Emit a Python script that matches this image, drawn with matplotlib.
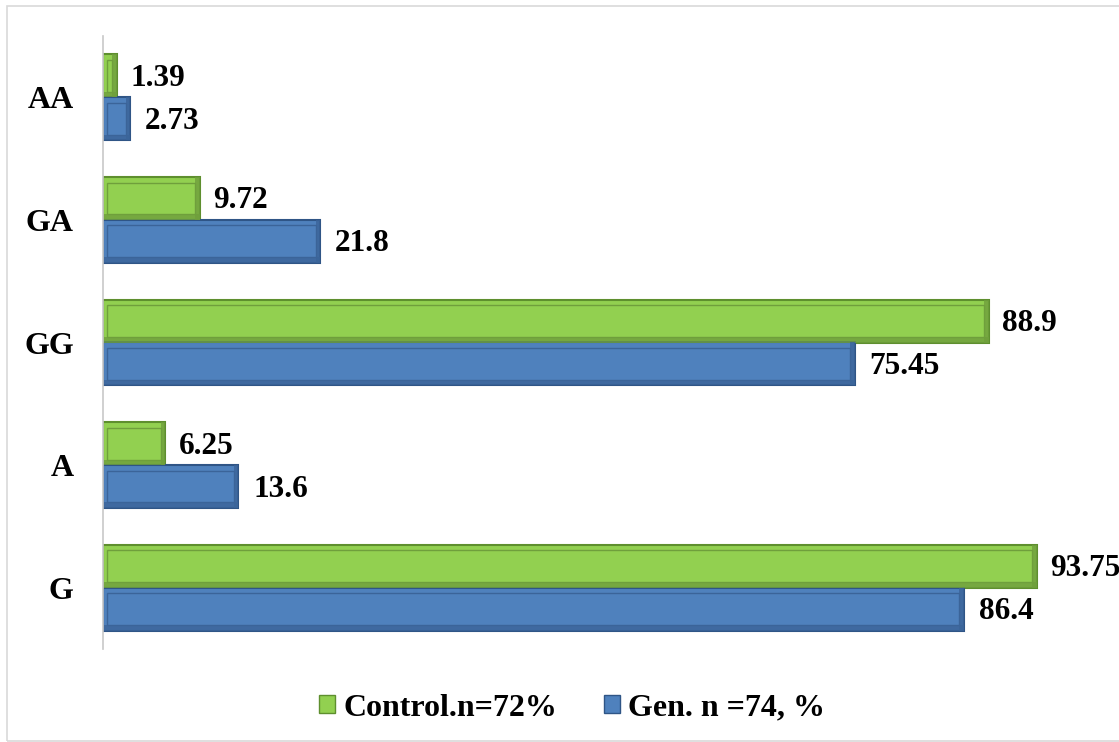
import matplotlib
matplotlib.use("Agg")
import matplotlib.pyplot as plt
from matplotlib.patches import Rectangle, Patch
import numpy as np

categories = ["G", "A", "GG", "GA", "AA"]
control = [93.75, 6.25, 88.9, 9.72, 1.39]
gen = [86.4, 13.6, 75.45, 21.8, 2.73]
control_labels = ["93.75", "6.25", "88.9", "9.72", "1.39"]
gen_labels = ["86.4", "13.6", "75.45", "21.8", "2.73"]
legend_labels = ["Control.n=72%", "Gen. n =74, %"]

plt.rcParams['font.family'] = ['Liberation Serif', 'DejaVu Serif']

fig = plt.figure(figsize=(11.19, 7.42), dpi=100)
fig.patches.append(Rectangle((7/1119, 1/742), 1.2, 735/742, transform=fig.transFigure,
                             fill=False, edgecolor="#d9d9d9", linewidth=1.2))
ax = fig.add_axes([103/1119, 1 - 649/742, 1 - 103/1119, (649 - 36)/742])

y = np.arange(len(categories))
h = 0.35

green_face, green_edge, green_dark = "#92d050", "#5e8f2e", "#6f9f3c"
blue_face, blue_edge, blue_dark = "#4f81bd", "#2f5586", "#3b6499"


def bevel_bars(ypos, vals, face, edge, dark):
    ax.barh(ypos, vals, height=h, color=face, edgecolor=edge, linewidth=1.5, zorder=2)
    vals = np.array(vals)
    ix = 0.45
    iy = 0.045
    inner_w = np.maximum(vals - 2 * ix, 0.05)
    ax.barh(ypos, inner_w, left=ix, height=h - 2 * iy, color="none",
            edgecolor=dark, linewidth=1.0, zorder=3)
    ax.barh(ypos - h / 2 + iy / 2, vals, height=iy, color=dark, alpha=0.8,
            linewidth=0, zorder=2.5)
    ax.barh(ypos, np.full_like(vals, ix), left=vals - ix, height=h, color=dark,
            alpha=0.8, linewidth=0, zorder=2.5)


bevel_bars(y + h / 2, control, green_face, green_edge, green_dark)
bevel_bars(y - h / 2, gen, blue_face, blue_edge, blue_dark)

for yi, v, lab in zip(y, control, control_labels):
    ax.text(v + 1.35, yi + h / 2 - 0.02, lab, va="center", ha="left", fontsize=22.5,
            fontweight="bold", color="black", clip_on=False)
for yi, v, lab in zip(y, gen, gen_labels):
    ax.text(v + 1.5, yi - h / 2 - 0.02, lab, va="center", ha="left", fontsize=22.5,
            fontweight="bold", color="black")

ax.set_xlim(0, 102)
ax.set_ylim(-0.5, len(categories) - 0.5)
ax.set_yticks(y)
ax.set_yticklabels(categories, fontsize=23, fontweight="bold")
ax.tick_params(axis="y", length=0, pad=21)
ax.set_xticks([])
for s in ["top", "right", "bottom"]:
    ax.spines[s].set_visible(False)
ax.spines["left"].set_color("#c8c8c8")
ax.spines["left"].set_linewidth(1.2)
ax.patch.set_visible(False)

handles = [Patch(facecolor=green_face, edgecolor=green_edge),
           Patch(facecolor=blue_face, edgecolor=blue_edge)]
fig.legend(handles, legend_labels, loc="center", bbox_to_anchor=(572/1119, 1 - 708/742),
           ncol=2, frameon=False, prop={"size": 23, "weight": "bold"},
           handlelength=0.5, handleheight=0.5, handletextpad=0.25, columnspacing=1.45)

fig.savefig("out.png", dpi=100)
